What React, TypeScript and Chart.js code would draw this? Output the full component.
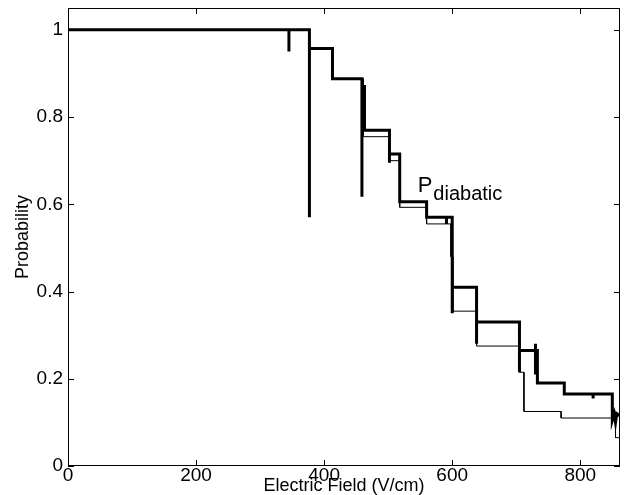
import React, { useEffect, useRef } from "react";
import { Chart, registerables } from "chart.js";
Chart.register(...registerables);

const xTicks = [0, 200, 400, 600, 800];
const yTicks = [0, 0.2, 0.4, 0.6, 0.8, 1];
const xMax = 862;
const yMax = 1.05;

// thick curve (step path)
const thickX = [0, 345, 345, 345, 377, 377, 377, 413, 413, 459, 459, 459, 463, 463, 502, 502, 502, 518, 518, 560, 560, 591, 591, 591, 600, 600, 600, 638, 638, 638, 705, 705, 705, 730, 730, 730, 730, 733, 733, 775, 775, 820, 820, 820, 850, 850, 853, 855, 857, 862];
const thickY = [1, 1, 0.95, 1, 1, 0.57, 0.957, 0.957, 0.888, 0.888, 0.617, 0.87, 0.87, 0.77, 0.77, 0.695, 0.715, 0.715, 0.606, 0.606, 0.57, 0.57, 0.555, 0.57, 0.57, 0.35, 0.41, 0.41, 0.28, 0.33, 0.33, 0.215, 0.265, 0.265, 0.28, 0.21, 0.265, 0.265, 0.19, 0.19, 0.165, 0.165, 0.155, 0.165, 0.165, 0.105, 0.12, 0.1, 0.12, 0.115];

// thin curve
const thinX = [0, 377, 377, 413, 413, 461, 461, 502, 502, 518, 518, 560, 560, 598, 598, 601, 601, 638, 638, 705, 705, 712, 712, 770, 770, 855, 855, 862];
const thinY = [1, 1, 0.957, 0.957, 0.888, 0.888, 0.755, 0.755, 0.7, 0.7, 0.593, 0.593, 0.555, 0.555, 0.48, 0.48, 0.355, 0.355, 0.275, 0.275, 0.215, 0.215, 0.125, 0.125, 0.11, 0.11, 0.065, 0.065];

const annotX = 546;
const annotY = 0.628;

const FONT = "'Liberation Sans', Arial, Helvetica, sans-serif";

const pts = (xs: number[], ys: number[]) => xs.map((x, i) => ({ x, y: ys[i] }));

const framePlugin = {
  id: "frame",
  afterDatasetsDraw(chart: any) {
    const { ctx, chartArea: a, scales } = chart;
    ctx.save();
    ctx.strokeStyle = "#000";
    ctx.lineWidth = 1;
    ctx.strokeRect(a.left + 0.5, a.top + 0.5, a.right - a.left - 1, a.bottom - a.top - 1);
    const L = 6;
    const line = (x1: number, y1: number, x2: number, y2: number) => {
      ctx.beginPath();
      ctx.moveTo(x1, y1);
      ctx.lineTo(x2, y2);
      ctx.stroke();
    };
    xTicks.forEach((v) => {
      const px = Math.round(scales.x.getPixelForValue(v)) + 0.5;
      line(px, a.bottom, px, a.bottom - L);
      line(px, a.top, px, a.top + L);
    });
    yTicks.forEach((v) => {
      const py = Math.round(scales.y.getPixelForValue(v)) + 0.5;
      line(a.left, py, a.left + L, py);
      line(a.right, py, a.right - L, py);
    });
    // annotation
    const ax = scales.x.getPixelForValue(annotX);
    const ay = scales.y.getPixelForValue(annotY);
    ctx.fillStyle = "#000";
    ctx.textBaseline = "alphabetic";
    ctx.textAlign = "left";
    ctx.font = `22px ${FONT}`;
    ctx.fillText("P", ax, ay);
    const w = ctx.measureText("P").width;
    ctx.font = `20px ${FONT}`;
    ctx.fillText("diabatic", ax + w + 1, ay + 8);
    ctx.restore();
  },
};

export default function App() {
  const ref = useRef<HTMLCanvasElement>(null);
  useEffect(() => {
    const chart = new Chart(ref.current as HTMLCanvasElement, {
      type: "line",
      data: {
        datasets: [
          {
            data: pts(thinX, thinY),
            borderColor: "#000",
            borderWidth: 1,
            pointRadius: 0,
            tension: 0,
            borderJoinStyle: "miter",
          },
          {
            data: pts(thickX, thickY),
            borderColor: "#000",
            borderWidth: 3,
            pointRadius: 0,
            tension: 0,
            borderJoinStyle: "miter",
          },
        ],
      },
      options: {
        animation: false,
        responsive: false,
        devicePixelRatio: 1,
        layout: { padding: { left: 0, right: 4, top: 8, bottom: 0 } },
        plugins: { legend: { display: false }, tooltip: { enabled: false } },
        scales: {
          x: {
            type: "linear",
            min: 0,
            max: xMax,
            grid: { display: false, drawTicks: false },
            border: { display: false },
            afterBuildTicks: (s: any) => {
              s.ticks = xTicks.map((v) => ({ value: v }));
            },
            afterFit: (s: any) => {
              s.height = 29;
              s.paddingLeft = 0;
              s.paddingRight = 0;
            },
            ticks: {
              color: "#000",
              padding: -2,
              maxRotation: 0,
              font: { family: FONT, size: 19 },
              callback: (v: any) => String(v),
            },
            title: {
              display: true,
              text: "Electric Field (V/cm)",
              color: "#000",
              font: { family: FONT, size: 18, lineHeight: 0.95 },
              padding: { top: 0, bottom: 0 },
            },
          },
          y: {
            type: "linear",
            min: 0,
            max: yMax,
            grid: { display: false, drawTicks: false },
            border: { display: false },
            afterBuildTicks: (s: any) => {
              s.ticks = yTicks.map((v) => ({ value: v }));
            },
            afterFit: (s: any) => {
              s.width = 68;
              s.paddingTop = 0;
              s.paddingBottom = 0;
            },
            ticks: {
              color: "#000",
              padding: 5,
              font: { family: FONT, size: 19 },
              callback: (v: any) => String(Math.round(v * 10) / 10),
            },
            title: {
              display: true,
              text: "Probability",
              color: "#000",
              font: { family: FONT, size: 18, lineHeight: 1 },
              padding: { top: 14, bottom: 0 },
            },
          },
        },
      },
      plugins: [framePlugin],
    } as any);
    return () => chart.destroy();
  }, []);
  return (
    <div style={{ position: "fixed", left: 0, top: 0, width: 624, height: 495, background: "#fff" }}>
      <canvas ref={ref} width={624} height={495} style={{ display: "block" }} />
    </div>
  );
}
